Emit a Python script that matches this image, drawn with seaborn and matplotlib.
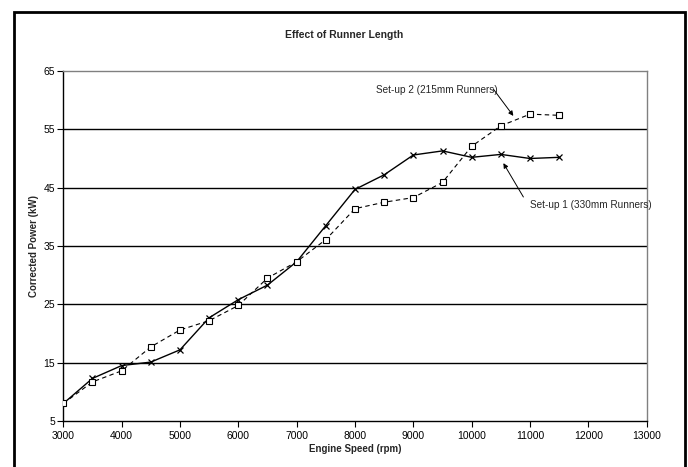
import matplotlib
matplotlib.use("Agg")
import matplotlib.pyplot as plt
import matplotlib.patches as patches
import seaborn as sns
import pandas as pd

# engine speed (rpm)
speed = [3000, 3500, 4000, 4500, 5000, 5500, 6000, 6500, 7000,
         7500, 8000, 8500, 9000, 9500, 10000, 10500, 11000, 11500]
# corrected power (kW)
setup1 = [8.0, 12.3, 14.5, 15.1, 17.2, 22.7, 25.8, 28.3, 32.3,
          38.5, 44.7, 47.2, 50.6, 51.3, 50.2, 50.7, 50.0, 50.2]
setup2 = [8.0, 11.7, 13.6, 17.7, 20.6, 22.2, 24.8, 29.5, 32.3,
          36.1, 41.4, 42.5, 43.3, 45.9, 52.1, 55.6, 57.6, 57.4]
x_ticks = list(range(3000, 13001, 1000))
y_ticks = list(range(5, 66, 10))

sns.set_style("white")
plt.rcParams['font.family'] = ['Liberation Sans', 'DejaVu Sans']

df = pd.DataFrame({"speed": speed, "Set-up 1": setup1, "Set-up 2": setup2})

fig = plt.figure(figsize=(6.88, 4.67), dpi=100)
ax = fig.add_axes([0.092, 0.0985, 0.848, 0.7495])

# horizontal gridlines
for yv in y_ticks[1:-1]:
    ax.axhline(yv, color="black", lw=1.0, zorder=1)

sns.lineplot(data=df, x="speed", y="Set-up 1", ax=ax, color="black", lw=1.0,
             marker="x", markersize=5, markeredgecolor="black",
             markeredgewidth=0.9, zorder=3)
sns.lineplot(data=df, x="speed", y="Set-up 2", ax=ax, color="black", lw=0.8,
             linestyle=(0, (4, 3)), marker="s", markersize=4.5,
             markerfacecolor="white", markeredgecolor="black",
             markeredgewidth=0.8, zorder=3)

ax.set_xlim(3000, 13000)
ax.set_ylim(5, 65)
ax.set_xticks(x_ticks)
ax.set_yticks(y_ticks)
ax.tick_params(axis="both", direction="out", length=4, width=0.8,
               labelsize=7.5, colors="black", bottom=True, left=True)
ax.tick_params(axis="y", pad=2)

for s in ["top", "right"]:
    ax.spines[s].set_color("#808080")
    ax.spines[s].set_linewidth(1.0)
for s in ["left", "bottom"]:
    ax.spines[s].set_color("black")
    ax.spines[s].set_linewidth(1.0)

ax.set_xlabel("Engine Speed (rpm)", fontsize=7, fontweight="bold", labelpad=2)
ax.set_ylabel("Corrected Power (kW)", fontsize=7, fontweight="bold", labelpad=3)
fig.suptitle("Effect of Runner Length", fontsize=7.5, fontweight="bold",
             y=0.935)

arrow = dict(arrowstyle="-|>", color="black", lw=0.7,
             mutation_scale=7, shrinkA=0, shrinkB=0)
ax.text(10440, 61.7, "Set-up 2 (215mm Runners)", fontsize=7.2,
        ha="right", va="center")
ax.annotate("", xy=(10714, 57.3), xytext=(10371, 61.9), arrowprops=arrow)
ax.text(11000, 42.0, "Set-up 1 (330mm Runners)", fontsize=7.2,
        ha="left", va="center")
ax.annotate("", xy=(10543, 49.2), xytext=(10886, 43.4), arrowprops=arrow)

# outer chart frame
frame = patches.Rectangle((13.5 / 688, -0.01), (685 - 13.5) / 688, 1 - 12 / 467 + 0.01,
                          transform=fig.transFigure, fill=False,
                          edgecolor="black", lw=2.0)
fig.patches.append(frame)

fig.savefig("out.png", dpi=100)
